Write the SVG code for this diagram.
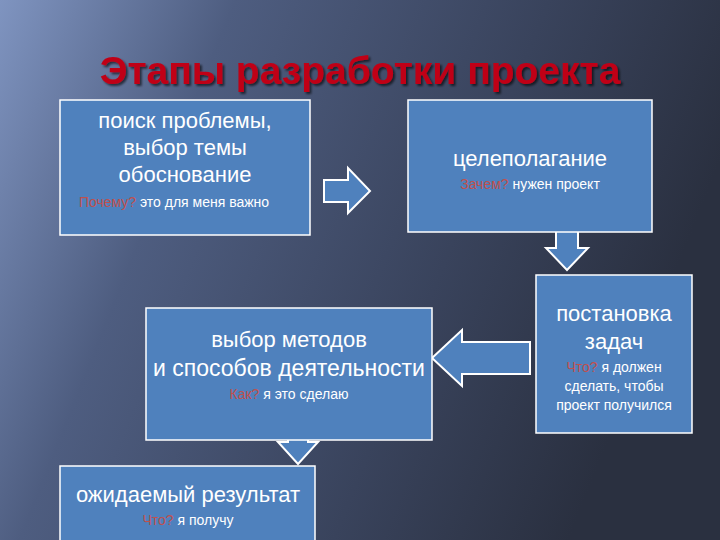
<svg xmlns="http://www.w3.org/2000/svg" width="720" height="540" viewBox="0 0 720 540">
<defs>
<linearGradient id="bg" x1="0" y1="0" x2="1" y2="0.3">
<stop offset="0" stop-color="#7f94c0"/><stop offset="0.3" stop-color="#4e5d80"/><stop offset="0.7" stop-color="#39435c"/><stop offset="1" stop-color="#2a3040"/>
</linearGradient>
<filter id="sh" x="-5%" y="-20%" width="110%" height="140%"><feDropShadow dx="2" dy="2" stdDeviation="1" flood-color="#000" flood-opacity="0.6"/></filter>
<style>
.box{fill:#4f81bd;stroke:#fff;stroke-width:1.5}
.arr{fill:#4f81bd;stroke:#fff;stroke-width:2}
.w{fill:#fff;font-family:"Liberation Sans",Arial,sans-serif;text-anchor:middle}
.r{fill:#c0504d}
</style>
</defs>
<rect width="720" height="540" fill="url(#bg)"/>
<text x="360" y="84" filter="url(#sh)" font-family="Liberation Sans,Arial,sans-serif" font-weight="bold" font-size="39" fill="#c00018" text-anchor="middle">Этапы разработки проекта</text>
<g id="connectors">
<path class="arr" d="M324,180 H348 V168 L370,191 L348,213 V202 H324 Z"/>
<path class="arr" d="M556,226 H578 V248 H588 L567,270 L546,248 H556 Z"/>
<path class="arr" d="M530,342 H462 V330 L432,358 L462,386 V374 H530 Z"/>
<path class="arr" d="M288,418 H308 V442 H318 L298,464 L278,442 H288 Z"/>
</g>
<g id="n1"><rect class="box" x="60" y="100" width="250" height="135"/>
<text class="w" font-size="22" x="185" y="128">поиск проблемы,</text>
<text class="w" font-size="22" x="185" y="155">выбор темы</text>
<text class="w" font-size="22" x="185" y="182">обоснование</text>
<text class="w" font-size="14" x="174" y="207"><tspan class="r">Почему?</tspan> это для меня важно</text></g>
<g id="n2"><rect class="box" x="408" y="100" width="244" height="132"/>
<text class="w" font-size="22" x="530" y="166">целеполагание</text>
<text class="w" font-size="14" x="530" y="189"><tspan class="r">Зачем?</tspan> нужен проект</text></g>
<g id="n3"><rect class="box" x="536" y="275" width="156" height="158"/>
<text class="w" font-size="22" x="614" y="321">постановка</text>
<text class="w" font-size="22" x="614" y="349">задач</text>
<text class="w" font-size="14" x="614" y="372"><tspan class="r">Что?</tspan> я должен</text>
<text class="w" font-size="14" x="614" y="391">сделать, чтобы</text>
<text class="w" font-size="14" x="614" y="410">проект получился</text></g>
<g id="n4"><rect class="box" x="146" y="308" width="286" height="132"/>
<text class="w" font-size="22" x="289" y="347">выбор методов</text>
<text class="w" font-size="23" x="289" y="376">и способов деятельности</text>
<text class="w" font-size="14" x="289" y="399"><tspan class="r">Как?</tspan> я это сделаю</text></g>
<g id="n5"><rect class="box" x="60" y="466" width="255" height="80"/>
<text class="w" font-size="22" x="188" y="502">ожидаемый результат</text>
<text class="w" font-size="14" x="188" y="525"><tspan class="r">Что?</tspan> я получу</text></g>
</svg>
